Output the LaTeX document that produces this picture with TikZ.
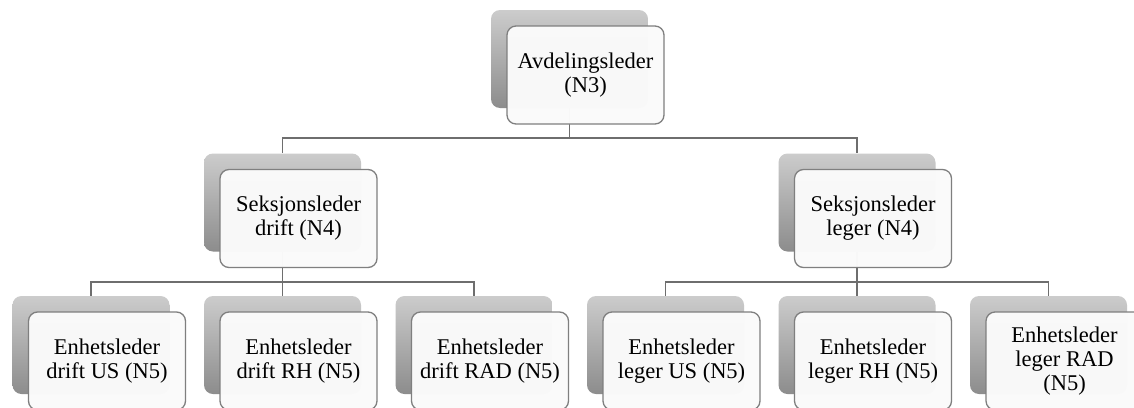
\documentclass[tikz,border=0pt]{standalone}
\usepackage{fontspec}
\setmainfont{Liberation Serif}
\usetikzlibrary{backgrounds}

\definecolor{cardline}{HTML}{7F7F7F}
\definecolor{cardfill}{HTML}{FAFAFA}
\definecolor{linkline}{HTML}{6E6E6E}

\begin{document}
\begin{tikzpicture}[x=1pt, y=-1pt,
  cardback/.style={rounded corners=9pt, minimum width=157pt, minimum height=98pt,
    inner sep=0pt, top color=black!20, bottom color=black!45},
  card/.style={draw=cardline, line width=1.3pt, fill=cardfill, fill opacity=.985,
    text opacity=1, rounded corners=9pt, minimum width=157pt, minimum height=98pt,
    inner sep=2pt, align=center, font=\fontsize{22.5}{24}\selectfont},
  link/.style={draw=linkline, line width=1.4pt}]
  \useasboundingbox (0,0) rectangle (1134,407);

  % top
  \node [cardback] (avd-bg) at (569.5,59) {};
  \node [card] (avd) at ([shift={(16,16)}]avd-bg.center) {Avdelingsleder\\(N3)};

  % second level
  \node [cardback] (drift-bg) at (282.5,202.5) {};
  \node [card] (drift) at ([shift={(16,16)}]drift-bg.center) {Seksjonsleder\\drift (N4)};
  \node [cardback] (leger-bg) at (857,202.5) {};
  \node [card] (leger) at ([shift={(16,16)}]leger-bg.center) {Seksjonsleder\\leger (N4)};

  % third level
  \node [cardback] (driftus-bg) at (91,345) {};
  \node [card] (driftus) at ([shift={(16,16)}]driftus-bg.center) {Enhetsleder\\drift US (N5)};
  \node [cardback] (driftrh-bg) at (282.5,345) {};
  \node [card] (driftrh) at ([shift={(16,16)}]driftrh-bg.center) {Enhetsleder\\drift RH (N5)};
  \node [cardback] (driftrad-bg) at (474,345) {};
  \node [card] (driftrad) at ([shift={(16,16)}]driftrad-bg.center) {Enhetsleder\\drift RAD (N5)};
  \node [cardback] (legerus-bg) at (665.5,345) {};
  \node [card] (legerus) at ([shift={(16,16)}]legerus-bg.center) {Enhetsleder\\leger US (N5)};
  \node [cardback] (legerrh-bg) at (857,345) {};
  \node [card] (legerrh) at ([shift={(16,16)}]legerrh-bg.center) {Enhetsleder\\leger RH (N5)};
  \node [cardback] (legerrad-bg) at (1048.5,345) {};
  \node [card] (legerrad) at ([shift={(16,16)}]legerrad-bg.center) {Enhetsleder\\leger RAD\\(N5)};

  % forks
  \coordinate (top-fork) at (569.5,138);
  \coordinate (drift-fork) at (282.5,282);
  \coordinate (leger-fork) at (857,282);

  \begin{scope}[on background layer]
    \fill [white] (0,0) rectangle (1134,407);
    \draw [link] (avd-bg.south) -- (top-fork) -| (drift-bg.north);
    \draw [link] (top-fork) -| (leger-bg.north);
    \draw [link] (drift-bg.south) -- (drift-fork) -| (driftus-bg.north);
    \draw [link] (drift-fork) -- (driftrh-bg.north);
    \draw [link] (drift-fork) -| (driftrad-bg.north);
    \draw [link] (leger-bg.south) -- (leger-fork) -| (legerus-bg.north);
    \draw [link] (leger-fork) -- (legerrh-bg.north);
    \draw [link] (leger-fork) -| (legerrad-bg.north);
  \end{scope}
\end{tikzpicture}
\end{document}
